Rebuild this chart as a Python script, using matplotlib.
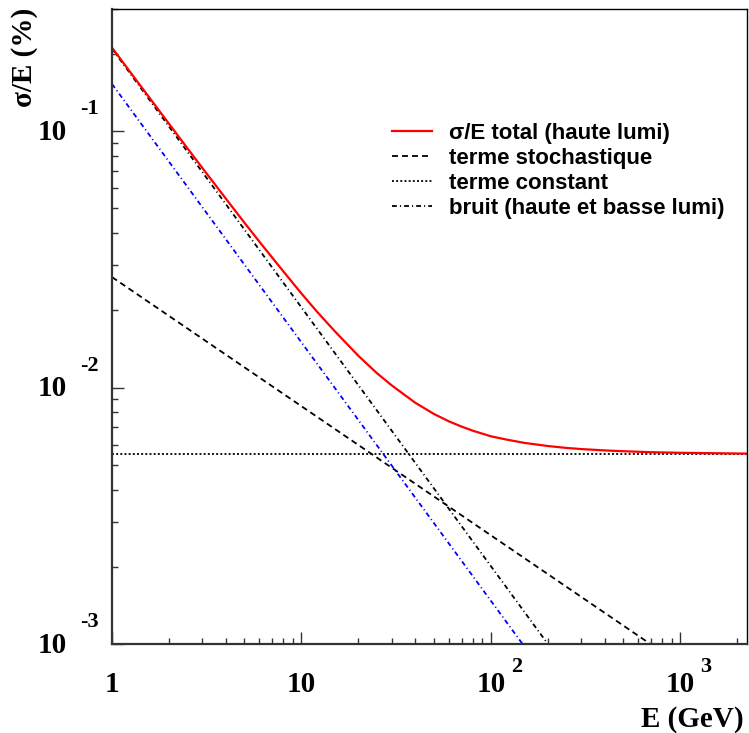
import numpy as np
import matplotlib
matplotlib.use("Agg")
import matplotlib.pyplot as plt
from matplotlib.ticker import LogLocator, NullFormatter

plt.rcParams['lines.scale_dashes'] = False

# Energies (GeV) and resolution values
E_total = [1, 1.25, 1.5, 1.75, 2, 2.5, 3, 4, 5, 6, 7, 8, 10, 12, 15, 20, 25, 30, 40, 50,
           60, 70, 80, 100, 120, 150, 200, 250, 300, 400, 500, 700, 1000, 1500, 2250]
sig_total = [0.212, 0.170, 0.142, 0.122, 0.107, 0.0859, 0.0719, 0.0545, 0.0440, 0.0371,
             0.0322, 0.0285, 0.0233, 0.0199, 0.0166, 0.0133, 0.0114, 0.0102, 0.00872, 0.0079,
             0.00739, 0.00705, 0.0068, 0.00646, 0.00628, 0.00609, 0.00592, 0.00582, 0.00576,
             0.00569, 0.00565, 0.0056, 0.00557, 0.00555, 0.00553]

E_stoch = [1, 695]
sig_stoch = [0.027, 0.001]

E_const = [1, 2250]
sig_const = [0.0055, 0.0055]

E_bruit_haute = [1, 200]
sig_bruit_haute = [0.21, 0.001]

E_bruit_basse = [1, 147]
sig_bruit_basse = [0.153, 0.001]

labels = ["σ/E total (haute lumi)", "terme stochastique", "terme constant",
          "bruit (haute et basse lumi)"]

x_decades = [1, 10, 100, 1000]
x_labels = ["1", "10", "10", "10"]
x_sup = ["", "", "2", "3"]
y_decades = [1e-3, 1e-2, 1e-1]
y_sup = ["-3", "-2", "-1"]

fig = plt.figure(figsize=(7.49, 7.33), dpi=100)
ax = fig.add_axes([112 / 749, 1 - 644 / 733, (747 - 112) / 749, (644 - 9) / 733])
ax.set_xscale('log')
ax.set_yscale('log')

l_stoch, = ax.plot(E_stoch, sig_stoch, color='black', lw=1.3, dashes=(4.3, 2.9))
l_const, = ax.plot(E_const, sig_const, color='black', lw=1.3, dashes=(1.4, 1.6))
l_bruit, = ax.plot(E_bruit_haute, sig_bruit_haute, color='black', lw=1.3, dashes=(3.5, 2.2, 0.8, 2.2))
ax.plot(E_bruit_basse, sig_bruit_basse, color='blue', lw=1.3, dashes=(3.5, 2.2, 0.8, 2.2))
l_tot, = ax.plot(E_total, sig_total, color='red', lw=1.6)

ax.set_xlim(1, 2250)
ax.set_ylim(1e-3, 0.3)

# axes / ticks in the style of the original
for s in ['left', 'bottom']:
    ax.spines[s].set_color('#333333')
    ax.spines[s].set_linewidth(1.6)
for s in ['top', 'right']:
    ax.spines[s].set_color('black')
    ax.spines[s].set_linewidth(1.0)

ax.xaxis.set_major_locator(LogLocator(base=10, numticks=10))
ax.xaxis.set_minor_locator(LogLocator(base=10, subs=np.arange(2, 10), numticks=20))
ax.yaxis.set_major_locator(LogLocator(base=10, numticks=10))
ax.yaxis.set_minor_locator(LogLocator(base=10, subs=np.arange(2, 10), numticks=20))
ax.xaxis.set_major_formatter(NullFormatter())
ax.xaxis.set_minor_formatter(NullFormatter())
ax.yaxis.set_major_formatter(NullFormatter())
ax.yaxis.set_minor_formatter(NullFormatter())
ax.tick_params(which='both', direction='in', top=False, right=False, color='#333333', width=1.0)
ax.tick_params(which='major', length=8.6)
ax.tick_params(which='minor', length=4.3)

px = 0.72  # points per pixel at 100 dpi
lab_font = dict(family='Liberation Serif', weight='bold', size=21)
sup_font = dict(family='Liberation Serif', weight='bold', size=16)

for v, s in zip(y_decades, y_sup):
    ax.annotate("10", xy=(0, v), xycoords=('axes fraction', 'data'), xytext=(-45 * px, -1 * px),
                textcoords='offset points', ha='right', va='center', **lab_font)
    ax.annotate(s, xy=(0, v), xycoords=('axes fraction', 'data'), xytext=(-32 * px, 22 * px),
                textcoords='offset points', ha='left', va='center', **sup_font)

for v, t, s in zip(x_decades, x_labels, x_sup):
    ax.annotate(t, xy=(v, 0), xycoords=('data', 'axes fraction'), xytext=(0, -41 * px),
                textcoords='offset points', ha='center', va='center', **lab_font)
    if s:
        ax.annotate(s, xy=(v, 0), xycoords=('data', 'axes fraction'), xytext=(20 * px, -23 * px),
                    textcoords='offset points', ha='left', va='center', **sup_font)

fig.text(744 / 749, 1 - 727 / 733, "E (GeV)", ha='right', va='baseline', **lab_font)
fig.text(25 / 749, 1 - 8 / 733, "σ/E (%)", rotation=90, ha='center', va='top', **lab_font)

leg = ax.legend([l_tot, l_stoch, l_const, l_bruit], labels, frameon=False,
                loc='upper left', bbox_to_anchor=((392 - 112) / 635, (644 - 123) / 635),
                prop=dict(family='Liberation Sans', weight='bold', size=16),
                handlelength=1.8, handletextpad=0.75, labelspacing=0.18,
                borderaxespad=0, borderpad=0)

fig.savefig("out.png", dpi=100)
